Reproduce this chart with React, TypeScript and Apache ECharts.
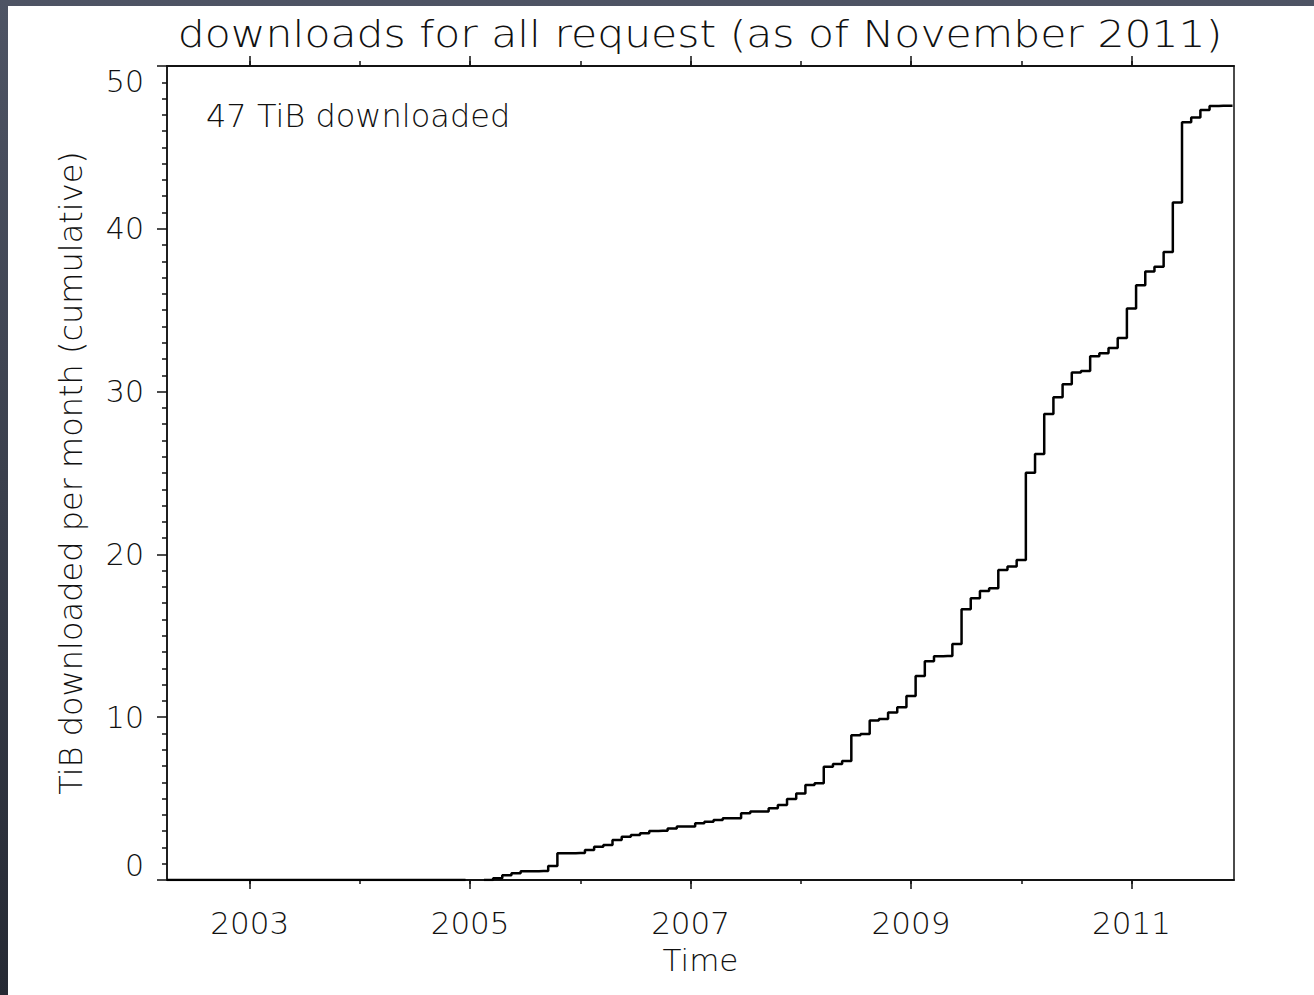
import React, { useEffect, useRef } from "react";
import * as echarts from "echarts";

// Text
const chartTitle = "downloads for all request (as of November 2011)";
const totalNote = "47 TiB downloaded";
const xAxisName = "Time";
const yAxisName = "TiB downloaded per month (cumulative)";

// Monthly series starts in April 2002
const firstYear = 2002;
const firstMonth = 4;

// Cumulative TiB, Apr 2002 – Dec 2004 (nothing downloaded yet)
const cumulative2002to2004: (number | null)[] = [
  0, 0, 0, 0, 0, 0, 0, 0, 0,
  0, 0, 0, 0, 0, 0, 0, 0, 0, 0, 0, 0,
  0, 0, 0, 0, 0, 0, 0, 0, 0, 0, 0, 0,
];
// Cumulative TiB per month, one row per year
const cumulative2005: (number | null)[] = [null, null, 0, 0.1, 0.29, 0.41, 0.53, 0.54, 0.55, 0.86, 1.64, 1.65];
const cumulative2006: (number | null)[] = [1.66, 1.84, 2.05, 2.15, 2.46, 2.66, 2.76, 2.87, 3.01, 3.02, 3.17, 3.28];
const cumulative2007: (number | null)[] = [3.29, 3.48, 3.58, 3.69, 3.79, 3.8, 4.1, 4.2, 4.21, 4.41, 4.61, 4.98];
const cumulative2008: (number | null)[] = [5.32, 5.84, 5.94, 6.96, 7.13, 7.31, 8.89, 8.97, 9.79, 9.89, 10.29, 10.61];
const cumulative2009: (number | null)[] = [11.3, 12.53, 13.43, 13.74, 13.76, 14.5, 16.63, 17.3, 17.75, 17.92, 19.04, 19.25];
const cumulative2010: (number | null)[] = [19.66, 25.02, 26.17, 28.62, 29.65, 30.45, 31.18, 31.27, 32.17, 32.35, 32.68, 33.29];
const cumulative2011: (number | null)[] = [35.11, 36.53, 37.37, 37.67, 38.57, 41.62, 46.54, 46.83, 47.3, 47.54, 47.56, 47.56];

// Axis ranges and ticks
const xMin = 2002.25;
const xMax = 2011.93;
const labelledYears = [2003, 2005, 2007, 2009, 2011];
const allYears = [2003, 2004, 2005, 2006, 2007, 2008, 2009, 2010, 2011];
const yMin = 0;
const yMax = 50;
const yStep = 10;

const FONT = "'DejaVu Sans', 'Liberation Sans', sans-serif";
const WEIGHT = 200;
const INK = "#111";

const allMonths = [
  ...cumulative2002to2004,
  ...cumulative2005,
  ...cumulative2006,
  ...cumulative2007,
  ...cumulative2008,
  ...cumulative2009,
  ...cumulative2010,
  ...cumulative2011,
];

const seriesData = allMonths.map((v, i) => [
  firstYear + (firstMonth - 1 + i) / 12,
  v === null ? "-" : v,
]);

const axisLine = { show: true, lineStyle: { color: INK, width: 1.5 } };

function yearAxis(position: "top" | "bottom", years: number[], tickLen: number, withLabels: boolean) {
  return {
    type: "value",
    position,
    min: xMin,
    max: xMax,
    axisLine,
    splitLine: { show: false },
    axisTick: {
      show: true,
      customValues: years,
      length: tickLen,
      lineStyle: { color: INK, width: 1.5 },
    },
    axisLabel: withLabels
      ? {
          show: true,
          customValues: years,
          margin: 27,
          fontSize: 31,
          fontFamily: FONT,
          fontWeight: WEIGHT,
          color: INK,
          formatter: (v: number) => String(Math.round(v)),
        }
      : { show: false },
    ...(withLabels
      ? {
          name: xAxisName,
          nameLocation: "middle",
          nameGap: 64,
          nameTextStyle: { fontSize: 31, fontFamily: FONT, fontWeight: WEIGHT, color: INK },
        }
      : {}),
  };
}

export default function App() {
  const ref = useRef<HTMLDivElement>(null);

  useEffect(() => {
    if (!ref.current) return;
    const chart = echarts.init(ref.current, null, { renderer: "svg" });
    chart.setOption({
      animation: false,
      backgroundColor: "transparent",
      grid: {
        left: 167,
        right: 80,
        top: 66,
        bottom: 115,
        containLabel: false,
        show: true,
        borderColor: INK,
        borderWidth: 1.5,
        backgroundColor: "transparent",
      },
      xAxis: [
        yearAxis("bottom", labelledYears, 9, true),
        yearAxis("bottom", allYears, 4, false),
        yearAxis("top", labelledYears, 10, false),
        yearAxis("top", allYears, 5, false),
      ],
      yAxis: {
        type: "value",
        min: yMin,
        max: yMax,
        interval: yStep,
        axisLine,
        splitLine: { show: false },
        axisTick: { show: true, length: 10, lineStyle: { color: INK, width: 1.5 } },
        minorTick: { show: true, splitNumber: 10, length: 5, lineStyle: { color: INK, width: 1.5 } },
        minorSplitLine: { show: false },
        axisLabel: {
          margin: 23,
          fontSize: 30,
          fontFamily: FONT,
          fontWeight: WEIGHT,
          color: INK,
          verticalAlignMinLabel: "bottom",
          verticalAlignMaxLabel: "top",
        },
        name: yAxisName,
        nameLocation: "middle",
        nameRotate: 90,
        nameGap: 80,
        nameTextStyle: { fontSize: 32, fontFamily: FONT, fontWeight: WEIGHT, color: INK },
      },
      graphic: [
        {
          type: "text",
          x: 700,
          y: 34,
          scaleX: 1.12,
          style: {
            text: chartTitle,
            fontSize: 38,
            fontFamily: FONT,
            fontWeight: WEIGHT,
            fill: INK,
            align: "center",
            verticalAlign: "middle",
          },
        },
        {
          type: "text",
          x: 206,
          y: 116,
          style: {
            text: totalNote,
            fontSize: 32,
            fontFamily: FONT,
            fontWeight: WEIGHT,
            fill: INK,
            align: "left",
            verticalAlign: "middle",
          },
        },
      ],
      series: [
        {
          type: "line",
          xAxisIndex: 0,
          yAxisIndex: 0,
          step: "middle",
          showSymbol: false,
          symbol: "none",
          connectNulls: false,
          lineStyle: { color: "#000", width: 2.5 },
          data: seriesData,
        },
      ],
    });
    return () => chart.dispose();
  }, []);

  return (
    <div
      style={{
        position: "absolute",
        left: 0,
        top: 0,
        width: 1314,
        height: 995,
        overflow: "hidden",
        background: "linear-gradient(180deg, #4e5464 0%, #3a3f4c 50%, #262a34 100%)",
      }}
    >
      <div
        style={{
          position: "absolute",
          left: 8,
          top: 6,
          right: 0,
          bottom: 0,
          background: "#ffffff",
        }}
      />
      <div
        ref={ref}
        style={{ position: "absolute", left: 0, top: 0, width: 1314, height: 995 }}
      />
    </div>
  );
}
